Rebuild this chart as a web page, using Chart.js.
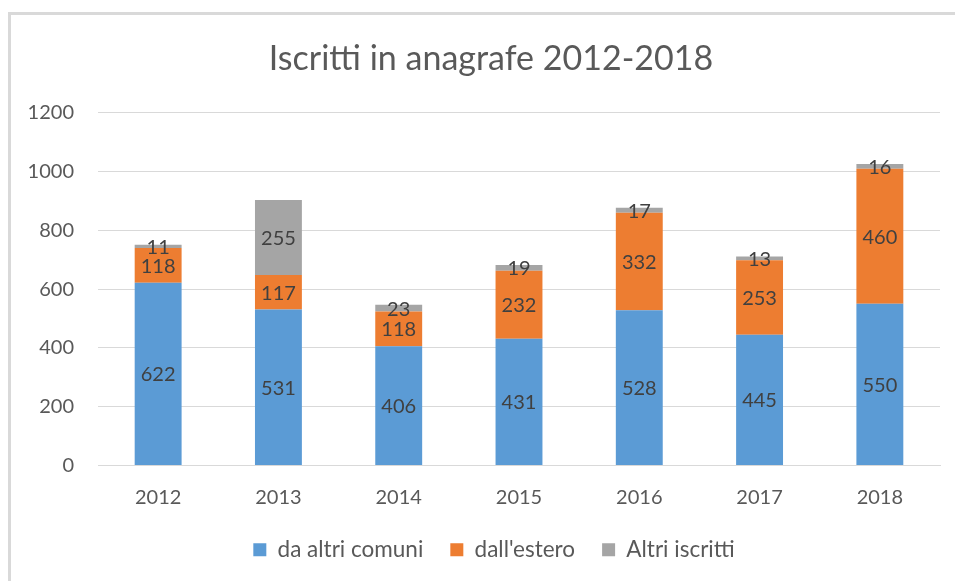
<!DOCTYPE html>
<html>
<head>
<meta charset="utf-8">
<script src="https://cdn.jsdelivr.net/npm/chart.js@4.4.0/dist/chart.umd.min.js"></script>
<style>
  html, body { margin: 0; padding: 0; background: #fff; }
  #wrap { position: relative; width: 955px; height: 581px; overflow: hidden; }
  #frame { position: absolute; left: 8px; top: 12px; width: 960px; height: 600px;
           border-left: 3px solid #d9d9d9; border-top: 3px solid #d9d9d9; box-sizing: border-box; }
  canvas { position: absolute; left: 0; top: 0; }
</style>
</head>
<body>
<div id="wrap">
  <div id="frame"></div>
  <canvas id="c" width="955" height="581"></canvas>
</div>
<script>
const categories = ['2012', '2013', '2014', '2015', '2016', '2017', '2018'];
const daAltriComuni = [622, 531, 406, 431, 528, 445, 550];
const dallEstero = [118, 117, 118, 232, 332, 253, 460];
const altriIscritti = [11, 255, 23, 19, 17, 13, 16];
const yTicks = [0, 200, 400, 600, 800, 1000, 1200];

const FONT = 'Lato, "Liberation Sans", sans-serif';

const labelPlugin = {
  id: 'segLabels',
  afterDatasetsDraw(chart) {
    const ctx = chart.ctx;
    ctx.save();
    ctx.font = '20px ' + FONT;
    ctx.fillStyle = '#404040';
    ctx.textAlign = 'center';
    ctx.textBaseline = 'middle';
    chart.data.datasets.forEach((ds, i) => {
      const meta = chart.getDatasetMeta(i);
      meta.data.forEach((bar, j) => {
        const v = ds.data[j];
        const yc = (bar.y + bar.base) / 2;
        ctx.fillText(String(v), bar.x, yc + 1);
      });
    });
    ctx.restore();
  }
};

const blockShift = {
  id: 'blockShift',
  afterLayout(chart) {
    if (chart.legend) {
      chart.legend.left += 19;
      chart.legend.right += 19;
    }
    if (chart.titleBlock) {
      chart.titleBlock.left += 16;
      chart.titleBlock.right += 16;
    }
  }
};

new Chart(document.getElementById('c'), {
  type: 'bar',
  data: {
    labels: categories,
    datasets: [
      { label: 'da altri comuni', data: daAltriComuni, backgroundColor: '#5B9BD5' },
      { label: "dall'estero", data: dallEstero, backgroundColor: '#ED7D31' },
      { label: 'Altri iscritti', data: altriIscritti, backgroundColor: '#A5A5A5' }
    ]
  },
  options: {
    responsive: false,
    animation: false,
    layout: { padding: { left: 10, right: 15, top: 20, bottom: 10 } },
    datasets: { bar: { barPercentage: 0.39, categoryPercentage: 1 } },
    plugins: {
      title: {
        display: true,
        text: 'Iscritti in anagrafe 2012-2018',
        color: '#595959',
        font: { family: FONT, size: 34, weight: 'normal' },
        padding: { top: 19, bottom: 33 }
      },
      legend: {
        position: 'bottom',
        labels: {
          color: '#595959',
          font: { family: FONT, size: 22.5 },
          boxWidth: 13, boxHeight: 13,
          padding: 27
        }
      },
      tooltip: { enabled: false }
    },
    scales: {
      x: {
        stacked: true,
        grid: { display: false },
        border: { color: '#d9d9d9', width: 1 },
        afterFit(scale) { scale.height = 46; },
        ticks: { color: '#595959', font: { family: FONT, size: 20 }, padding: 12 }
      },
      y: {
        stacked: true,
        min: 0, max: 1200,
        afterBuildTicks(scale) { scale.ticks = yTicks.map(v => ({ value: v })); },
        afterFit(scale) { scale.width = 88; },
        grid: { color: '#d9d9d9', drawTicks: false },
        border: { display: false },
        ticks: {
          color: '#595959', font: { family: FONT, size: 20 }, padding: 24,
          callback: (v) => String(v)
        }
      }
    }
  },
  plugins: [labelPlugin, blockShift]
});
</script>
</body>
</html>
